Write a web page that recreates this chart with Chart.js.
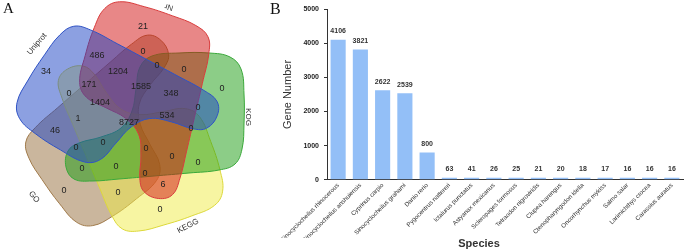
<!DOCTYPE html>
<html>
<head>
<meta charset="utf-8">
<script src="https://cdn.jsdelivr.net/npm/chart.js@4.4.1/dist/chart.umd.min.js"></script>
<style>
  html, body { margin: 0; padding: 0; background: #fff; }
  #wrap { position: relative; width: 685px; height: 251px; overflow: hidden; }
  #vennBox { position: absolute; left: 0; top: 0; width: 260px; height: 251px; }
  #barBox { position: absolute; left: 260px; top: 0; width: 425px; height: 251px; }
  .tag { position: absolute; font-family: "Liberation Serif", serif; color: #111; }
</style>
</head>
<body>
<div id="wrap">
  <div id="vennBox"><canvas id="vennChart" width="260" height="251"></canvas></div>
  <div id="barBox"><canvas id="barChart" width="425" height="251"></canvas></div>
  <div class="tag" style="left:3px; top:0px; font-size:15px;">A</div>
  <div class="tag" style="left:270px; top:0px; font-size:16px;">B</div>
</div>
<script>
Chart.defaults.font.family = "'Liberation Sans', Arial, sans-serif";

// ---- panel A: five-set venn ----
// drawn in this order (later petals sit on top)
const setNames = ['Uniprot', 'Nr', 'KOG', 'KEGG', 'GO'];
const setFills = ['rgba(25,65,195,0.5)', 'rgba(209,15,15,0.5)', 'rgba(25,155,15,0.5)', 'rgba(240,235,70,0.5)', 'rgba(150,110,60,0.5)'];
const setLines = ['#2f52c4', '#d83c3c', '#3aa83a', '#dcd83a', '#a07a4a'];
const setAngles = [-147, -72, 0, 72, 144];   // each petal is the KOG petal turned round the centre
const vennCentre = [134, 119];
// outline of one petal, relative to the centre
const petal = [
  [6, -52], [18, -63], [45, -66], [75, -66], [96, -62], [107, -50], [110, -25], [110, 5],
  [108, 30], [101, 45], [85, 51], [55, 54], [20, 57], [-15, 60], [-42, 62], [-60, 60],
  [-68, 48], [-66, 32], [-55, 24], [-33, 18], [-13, 9], [-2, -8], [2, -30]
];
const regionCounts = [21, 486, 0, 34, 1204, 0, 0, 0, 171, 1585, 0, 348, 1404, 0, 534, 1, 8727,
  0, 46, 0, 0, 0, 0, 0, 0, 0, 0, 6, 0, 0, 0];
const regionSpots = [
  [143, 27], [97, 56], [143, 52], [46, 72], [118, 72], [157, 66], [184, 70], [222, 89],
  [89, 85], [141, 87], [69, 94], [171, 94], [100, 103], [198, 108], [167, 116], [78, 119],
  [129, 123], [191, 129], [55, 131], [76, 148], [103, 143], [146, 149], [172, 157], [198, 163],
  [82, 169], [116, 167], [145, 174], [163, 185], [64, 191], [118, 193], [160, 210]
];
const nameSpots = [[37, 44, -50], [169, 7, 196], [248, 117, 90], [188, 226, -27], [34, 197, 52]];

function outline(k) {
  const a = setAngles[k] * Math.PI / 180;
  const c = Math.cos(a), s = Math.sin(a);
  return petal.map(([dx, dy]) => ({ x: vennCentre[0] + dx * c - dy * s, y: vennCentre[1] + dx * s + dy * c }));
}

// treat every outline as a closed smooth loop
const closeLoops = {
  id: 'closeLoops',
  afterDatasetUpdate(chart, args) {
    const line = args.meta.dataset;
    if (!line) return;
    line._loop = true;
    line._fullLoop = true;
    line._pointsUpdated = false;
    line._segments = undefined;
    line._path = undefined;
  }
};

const vennText = {
  id: 'vennText',
  afterDatasetsDraw(chart) {
    const { ctx, scales: { x, y } } = chart;
    ctx.save();
    ctx.fillStyle = '#222';
    ctx.textAlign = 'center';
    ctx.textBaseline = 'middle';
    ctx.font = "9px 'Liberation Sans', Arial";
    regionCounts.forEach((v, i) => {
      ctx.fillText(String(v), x.getPixelForValue(regionSpots[i][0]), y.getPixelForValue(regionSpots[i][1]));
    });
    ctx.font = "8px 'Liberation Sans', Arial";
    ctx.fillStyle = '#333';
    setNames.forEach((name, k) => {
      const [px, py, rot] = nameSpots[k];
      ctx.save();
      ctx.translate(x.getPixelForValue(px), y.getPixelForValue(py));
      ctx.rotate(rot * Math.PI / 180);
      ctx.fillText(name, 0, 0);
      ctx.restore();
    });
    ctx.restore();
  }
};

new Chart(document.getElementById('vennChart'), {
  type: 'scatter',
  data: {
    datasets: setNames.map((name, k) => ({
      label: name,
      data: outline(k),
      showLine: true,
      fill: 'shape',
      backgroundColor: setFills[k],
      borderColor: setLines[k],
      borderWidth: 1,
      pointRadius: 0,
      tension: 0.4
    }))
  },
  options: {
    responsive: false,
    animation: false,
    layout: { padding: 0 },
    plugins: { legend: { display: false }, tooltip: { enabled: false } },
    scales: {
      x: { type: 'linear', min: 0, max: 260, display: false },
      y: { type: 'linear', min: 0, max: 251, reverse: true, display: false }
    }
  },
  plugins: [closeLoops, vennText]
});

// ---- panel B: gene number per species ----
const species = ['Sinocyclocheilus rhinocerous', 'Sinocyclocheilus anshuiensis', 'Cyprinus carpio',
  'Sinocyclocheilus grahami', 'Danio rerio', 'Pygocentrus nattereri', 'Ictalurus punctatus',
  'Astyanax mexicanus', 'Scleropages formosus', 'Tetraodon nigroviridis', 'Clupea harengus',
  'Ctenopharyngodon idella', 'Oncorhynchus mykiss', 'Salmo salar', 'Larimichthys crocea',
  'Carassius auratus'];
const geneCounts = [4106, 3821, 2622, 2539, 800, 63, 41, 26, 25, 21, 20, 18, 17, 16, 16, 16];

// numbers over the bars
const valueLabels = {
  id: 'valueLabels',
  afterDatasetsDraw(chart) {
    const { ctx } = chart;
    const meta = chart.getDatasetMeta(0);
    ctx.save();
    ctx.font = "bold 7px 'Liberation Sans', Arial";
    ctx.fillStyle = '#333';
    ctx.textAlign = 'center';
    ctx.textBaseline = 'bottom';
    meta.data.forEach((bar, i) => ctx.fillText(String(geneCounts[i]), bar.x, bar.y - 5));
    ctx.restore();
  }
};

new Chart(document.getElementById('barChart'), {
  type: 'bar',
  data: {
    labels: species,
    datasets: [{
      data: geneCounts,
      backgroundColor: '#93bff7',
      barPercentage: 0.68,
      categoryPercentage: 1.0,
      minBarLength: 2
    }]
  },
  options: {
    responsive: false,
    animation: false,
    layout: { padding: { left: 15, right: 2, top: 9, bottom: 0 } },
    plugins: {
      legend: { display: false },
      tooltip: { enabled: false },
      title: {
        display: true,
        text: 'Species',
        position: 'bottom',
        color: '#333',
        font: { size: 11, weight: 'bold' },
        padding: { top: 0, bottom: 0 }
      }
    },
    scales: {
      x: {
        grid: { display: false, drawTicks: false },
        border: { color: '#333' },
        ticks: { font: { size: 6.2 }, color: '#333', maxRotation: 45, minRotation: 45, autoSkip: false, padding: 2 },
        afterFit(s) { s.height = 58; }
      },
      y: {
        min: 0,
        max: 5000,
        ticks: { stepSize: 1000, font: { size: 7, weight: 'bold' }, color: '#222', padding: 5, callback: (v) => String(v) },
        grid: { drawOnChartArea: false, tickLength: 3, color: '#333' },
        border: { color: '#333' },
        title: { display: true, text: 'Gene Number', color: '#333', font: { size: 11 }, padding: { top: 6, bottom: 0 } },
        afterFit(s) { s.width = 52; }
      }
    }
  },
  plugins: [valueLabels]
});
</script>
</body>
</html>
